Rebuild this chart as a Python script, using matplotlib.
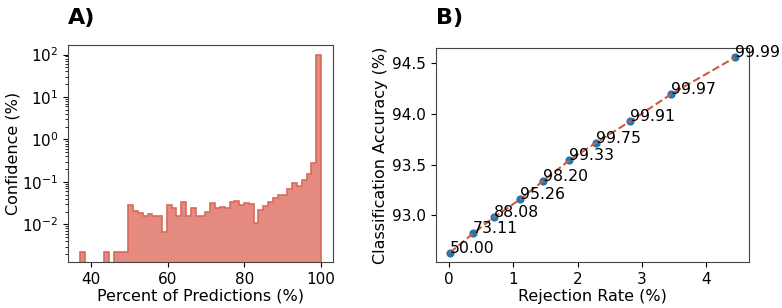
import numpy as np
import matplotlib.pyplot as plt

# histogram (panel A): 50 bins, height = percent of predictions per bin
bin_edges = np.linspace(37.15, 100, 51)
hist_pct = [
    0.0022, 0, 0, 0, 0, 0.0022, 0, 0.0022, 0.0022, 0.0022,
    0.0286, 0.0206, 0.0182, 0.0158, 0.0175, 0.0155, 0.0155, 0.0067, 0.0286, 0.0239,
    0.0155, 0.0330, 0.0155, 0.0239, 0.0155, 0.0155, 0.0199, 0.0313, 0.0247, 0.0261,
    0.0247, 0.0331, 0.0356, 0.0286, 0.0313, 0.0297, 0.0109, 0.0218, 0.0271, 0.0342,
    0.0412, 0.0493, 0.0493, 0.0684, 0.0962, 0.0805, 0.111, 0.155, 0.286, 98.4,
]

# rejection curve (panel B)
rejection_rate = [0.016, 0.378, 0.70, 1.109, 1.467, 1.871, 2.286, 2.815, 3.453, 4.443]
accuracy = [92.63, 92.82, 92.98, 93.157, 93.341, 93.542, 93.716, 93.927, 94.197, 94.559]
thresholds = ['50.00', '73.11', '88.08', '95.26', '98.20', '99.33', '99.75', '99.91', '99.97', '99.99']

plt.rcParams['font.size'] = 11.5

fig = plt.figure(figsize=(7.82, 3.08), dpi=100)
ax1 = fig.add_axes([0.087, 0.149, 0.339, 0.705])
ax2 = fig.add_axes([0.557, 0.148, 0.401, 0.697])

ax1.hist(bin_edges[:-1], bins=bin_edges, weights=hist_pct, histtype='stepfilled',
         log=True, facecolor='#E48A7E', edgecolor='#D96A5D', linewidth=1.2)
ax1.set_xlabel('Percent of Predictions (%)', labelpad=1)
ax1.set_ylabel('Confidence (%)', labelpad=1)
ax1.set_title('A)', loc='left', fontweight='bold', fontsize=16, pad=15)

ax2.scatter(rejection_rate, accuracy, s=24, color='#1f77b4', zorder=2)
ax2.plot(rejection_rate, accuracy, '--', color='#CF5A40', linewidth=1.5, zorder=3)
for x, y, t in zip(rejection_rate, accuracy, thresholds):
    ax2.text(x, y, t, fontsize=11.3)
ax2.set_xlabel('Rejection Rate (%)', labelpad=1)
ax2.set_ylabel('Classification Accuracy (%)', labelpad=3)
ax2.set_title('B)', loc='left', fontweight='bold', fontsize=16, pad=17)

for ax in (ax1, ax2):
    ax.tick_params(labelsize=11)
    for s in ax.spines.values():
        s.set_edgecolor('#444444')

fig.savefig('out.png', dpi=100)
